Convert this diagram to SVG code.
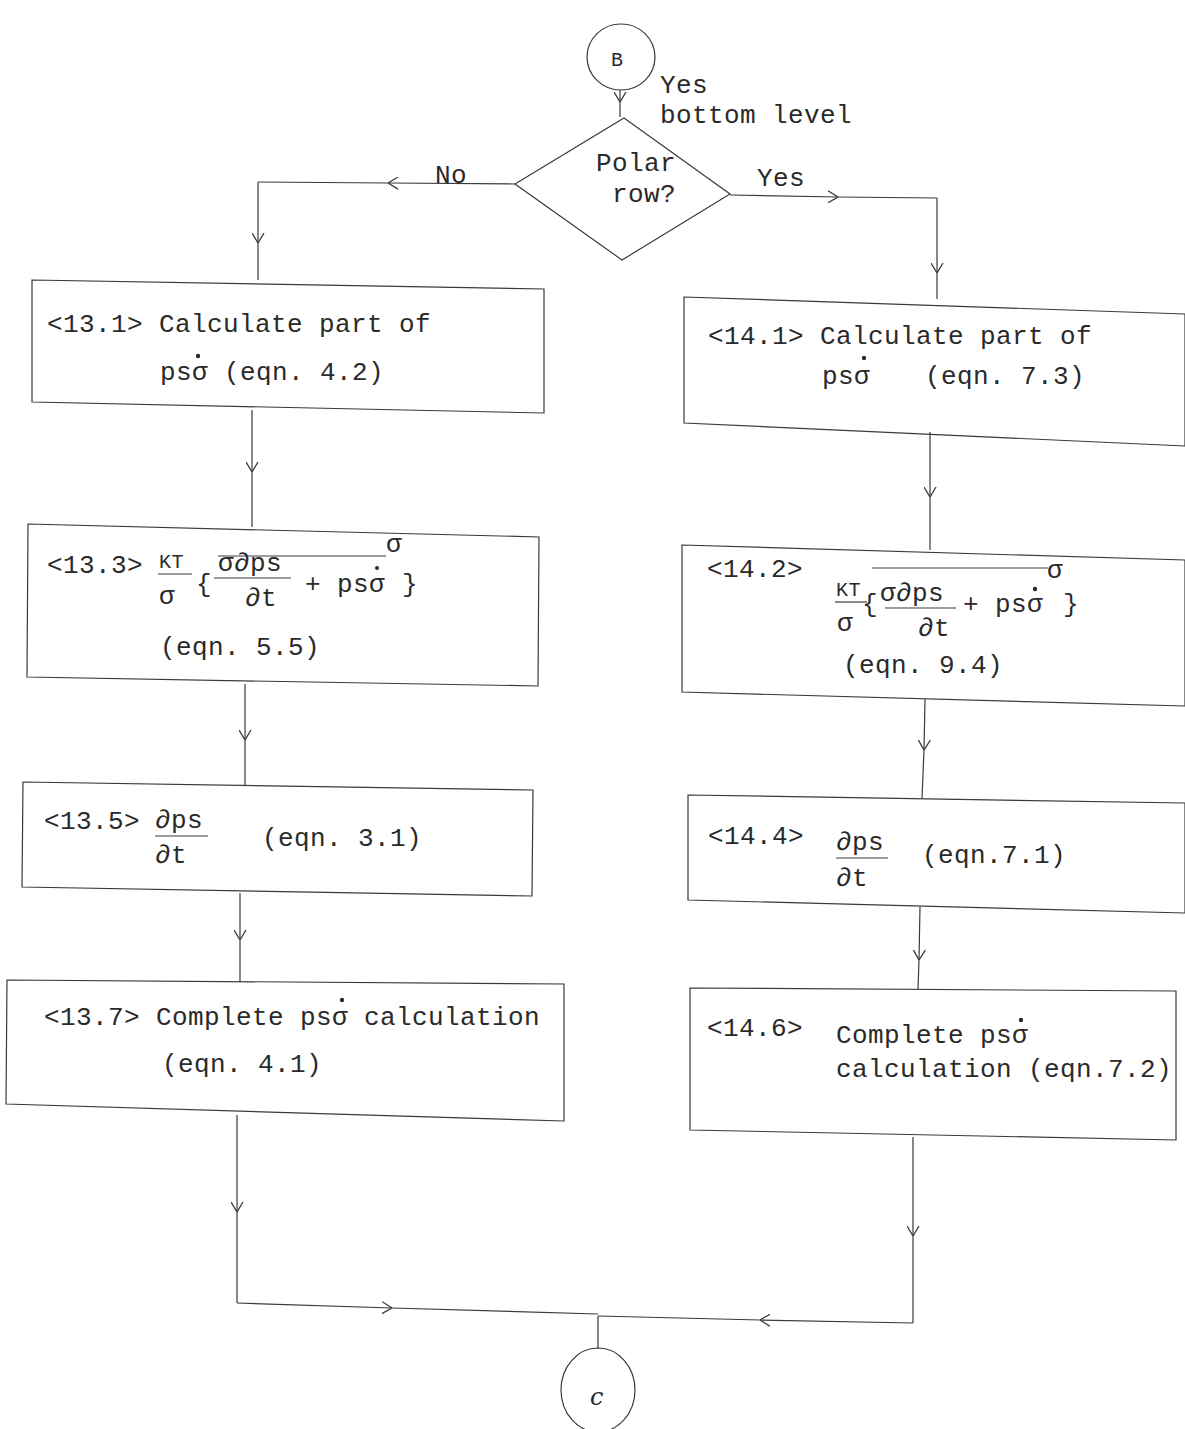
<svg xmlns="http://www.w3.org/2000/svg" width="1185" height="1429" viewBox="0 0 1185 1429">
<style>
text{font-family:"Liberation Mono","Courier New",monospace;font-size:26px;letter-spacing:0.4px;fill:#2a2a2a}
.box{fill:none;stroke:#3a3a3a;stroke-width:1.2}
.ln{fill:none;stroke:#3a3a3a;stroke-width:1.2}
.c{fill:none;stroke:#3a3a3a;stroke-width:1.2;marker-mid:url(#chev)}
.dot{fill:#2a2a2a}
.hw{font-family:"DejaVu Serif",serif;font-style:italic;font-size:24px}
</style>
<defs>
<marker id="chev" viewBox="0 0 10 12" refX="10" refY="6" markerWidth="10" markerHeight="13" markerUnits="userSpaceOnUse" orient="auto">
<path d="M0,0 L10,6 L0,12" fill="none" stroke="#3a3a3a" stroke-width="1.3"/>
</marker>
</defs>
<rect width="1185" height="1429" fill="#fff"/>

<g id="connectors">
<path class="c" d="M620,90 L620,102 L620,117"/>
<path class="c" d="M515,184 L388,183 L258,182"/>
<path class="c" d="M258,182 L258,243 L258,280"/>
<path class="c" d="M730,195 L838,197 L937,198"/>
<path class="c" d="M937,198 L937,273 L937,299"/>
<path class="c" d="M252,410 L252,472 L252,527"/>
<path class="c" d="M245,684 L245,740 L245,785"/>
<path class="c" d="M240,893 L240,940 L240,982"/>
<path class="c" d="M237,1115 L237,1212 L237,1303"/>
<path class="c" d="M237,1303 L392,1308 L598,1314"/>
<path class="c" d="M930,432 L930,497 L930,550"/>
<path class="c" d="M925,699 L924,750 L922,798"/>
<path class="c" d="M920,907 L919,960 L918,989"/>
<path class="c" d="M913,1137 L913,1236 L913,1323"/>
<path class="c" d="M913,1323 L760,1320 L598,1316"/>
<path class="ln" d="M598,1316 L598,1349"/>
</g>

<g id="B">
<ellipse class="box" cx="621" cy="57" rx="34" ry="33"/>
<text x="611" y="66" style="font-size:20px">B</text>
</g>

<g id="polar">
<polygon class="box" points="624,118 730,194 622,260 515,184"/>
<text x="596" y="171">Polar</text>
<text x="612" y="202">row?</text>
</g>

<g id="labels">
<text x="660" y="93">Yes</text>
<text x="660" y="123">bottom level</text>
<text x="435" y="183">No</text>
<text x="757" y="186">Yes</text>
</g>

<g id="n13_1">
<polygon class="box" points="32,280 544,289 544,413 32,402"/>
<text x="47" y="332">&lt;13.1&gt; Calculate part of</text>
<text x="160" y="380">psσ (eqn. 4.2)</text>
<circle class="dot" cx="198" cy="356" r="2.2"/>
</g>

<g id="n13_3">
<polygon class="box" points="28,524 539,537 538,686 27,677"/>
<text x="47" y="573">&lt;13.3&gt;</text>
<text x="159" y="568" style="font-size:20px">KT</text>
<line class="ln" x1="158" y1="574" x2="192" y2="574"/>
<text x="159" y="604">σ</text>
<text x="196" y="592">{</text>
<line class="ln" x1="218" y1="556" x2="386" y2="556"/>
<text x="386" y="552">σ</text>
<text x="218" y="571">σ∂ps</text>
<line class="ln" x1="214" y1="578" x2="291" y2="578"/>
<text x="245" y="606">∂t</text>
<text x="305" y="592">+ psσ</text>
<circle class="dot" cx="377" cy="568" r="2"/>
<text x="402" y="592">}</text>
<text x="160" y="655">(eqn. 5.5)</text>
</g>

<g id="n13_5">
<polygon class="box" points="23,782 533,790 532,896 22,887"/>
<text x="44" y="829">&lt;13.5&gt;</text>
<text x="155" y="828">∂ps</text>
<line class="ln" x1="155" y1="836" x2="208" y2="836"/>
<text x="155" y="863">∂t</text>
<text x="262" y="846">(eqn. 3.1)</text>
</g>

<g id="n13_7">
<polygon class="box" points="7,980 564,984 564,1121 6,1104"/>
<text x="44" y="1025">&lt;13.7&gt; Complete psσ calculation</text>
<circle class="dot" cx="342" cy="1000" r="2.2"/>
<text x="162" y="1072">(eqn. 4.1)</text>
</g>

<g id="n14_1">
<polygon class="box" points="684,297 1185,314 1185,446 684,423"/>
<text x="708" y="344">&lt;14.1&gt; Calculate part of</text>
<text x="822" y="384">psσ</text>
<circle class="dot" cx="864" cy="358" r="2.2"/>
<text x="925" y="384">(eqn. 7.3)</text>
</g>

<g id="n14_2">
<polygon class="box" points="682,545 1185,560 1185,706 682,692"/>
<text x="707" y="577">&lt;14.2&gt;</text>
<text x="836" y="596" style="font-size:20px">KT</text>
<line class="ln" x1="835" y1="602" x2="867" y2="602"/>
<text x="837" y="631">σ</text>
<text x="862" y="612">{</text>
<line class="ln" x1="872" y1="568" x2="1048" y2="568"/>
<text x="1047" y="578">σ</text>
<text x="880" y="601">σ∂ps</text>
<line class="ln" x1="885" y1="608" x2="956" y2="608"/>
<text x="918" y="636">∂t</text>
<text x="963" y="612">+ psσ</text>
<circle class="dot" cx="1035" cy="589" r="2.2"/>
<text x="1063" y="612">}</text>
<text x="843" y="673">(eqn. 9.4)</text>
</g>

<g id="n14_4">
<polygon class="box" points="688,795 1185,803 1185,913 688,900"/>
<text x="708" y="844">&lt;14.4&gt;</text>
<text x="836" y="850">∂ps</text>
<line class="ln" x1="836" y1="858" x2="888" y2="858"/>
<text x="836" y="886">∂t</text>
<text x="922" y="863">(eqn.7.1)</text>
</g>

<g id="n14_6">
<polygon class="box" points="690,988 1176,991 1176,1140 690,1130"/>
<text x="707" y="1036">&lt;14.6&gt;</text>
<text x="836" y="1043">Complete psσ</text>
<circle class="dot" cx="1021" cy="1020" r="2.2"/>
<text x="836" y="1077">calculation (eqn.7.2)</text>
</g>

<g id="C">
<ellipse class="box" cx="598" cy="1390" rx="37" ry="42"/>
<text class="hw" x="590" y="1405">c</text>
</g>
</svg>
